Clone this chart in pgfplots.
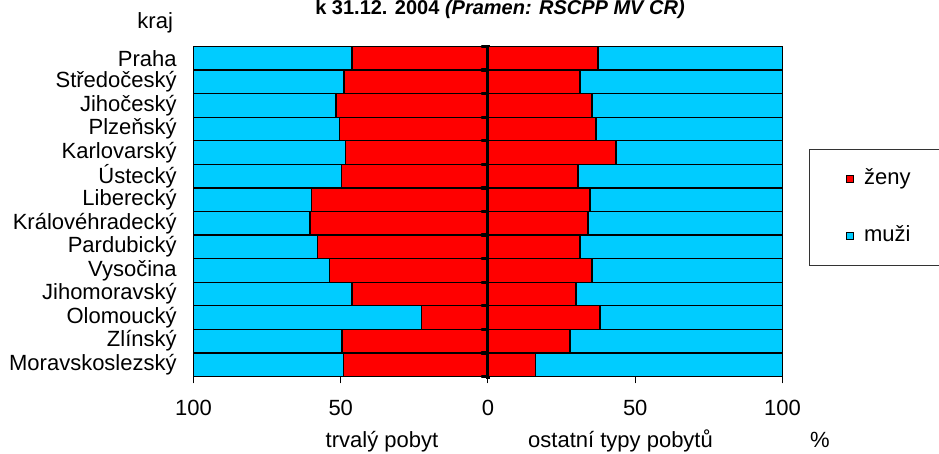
\documentclass[border=0pt]{standalone}
\usepackage{fontspec}
\setmainfont{Liberation Sans}
\usepackage{pgfplots}
\usepackage{pgfplotstable}
\pgfplotsset{compat=1.18}
\definecolor{zeny}{HTML}{FF0000}
\definecolor{muzi}{HTML}{00CCFF}

% ženy / muži share (%) -- trvalý pobyt (zt, mt), ostatní typy pobytů (zo, mo)
\pgfplotstableread{
kraj zt mt zo mo
Moravskoslezský 49.0 51.0 16.2 83.8
Zlínský 49.6 50.4 27.8 72.2
Olomoucký 22.5 77.5 38.0 62.0
Jihomoravský 46.2 53.8 29.9 70.1
Vysočina 53.8 46.2 35.3 64.7
Pardubický 57.8 42.2 31.2 68.8
Královéhradecký 60.4 39.6 34.0 66.0
Liberecký 59.9 40.1 34.6 65.4
Ústecký 49.7 50.3 30.6 69.4
Karlovarský 48.3 51.7 43.5 56.5
Plzeňský 50.4 49.6 36.7 63.3
Jihočeský 51.6 48.4 35.3 64.7
Středočeský 48.9 51.1 31.2 68.8
Praha 46.2 53.8 37.4 62.6
}\data

\pgfplotsset{
  common/.style={
    scale only axis, width=294.5pt, height=165pt,
    at={(96.75pt,38.75pt)}, anchor=south west,
    xmin=-100, xmax=100, ymin=-0.5, ymax=13.5,
    xbar stacked, bar width=1, clip=false,
    /pgf/number format/assume math mode=true,
  },
  barstyle/.style={draw=black, line width=0.7pt},
}

\begin{document}
\begin{tikzpicture}[font=\fontsize{11}{13}\selectfont]
\useasboundingbox (0,0) rectangle (469.5pt,227pt);
\begin{axis}[common,
  axis x line*=bottom, axis y line*=left,
  y axis line style={draw=none},
  x axis line style={black, line width=0.5pt},
  xtick={-100,-50,0,50,100},
  xticklabels={100,50,0,50,100},
  tick align=outside,
  major tick length=3.5pt,
  xtick style={black, line width=0.5pt},
  xticklabel style={anchor=center, yshift=-12pt},
  ytick=data,
  yticklabels from table={\data}{kraj},
  ytick style={draw=none},
  yticklabel style={anchor=east, xshift=-1.4pt},
  legend cell align=left,
  legend image code/.code={\draw[#1, line width=0.5pt] (0pt,-1.9pt) rectangle (3.8pt,1.9pt);},
  legend style={at={(rel axis cs:1.045,0.689)}, anchor=north west,
    draw=black!80, line width=0.5pt, inner xsep=18pt, inner ysep=10pt,
    row sep=19pt,
    nodes={inner sep=0pt, text height=7.5pt, text depth=2pt, anchor=west},
    /tikz/every odd column/.append style={column sep=5pt}},
]
\addplot[barstyle, fill=zeny] table[x expr=-\thisrow{zt}, y expr=\coordindex] {\data};
\addplot[barstyle, fill=muzi] table[x expr=-\thisrow{mt}, y expr=\coordindex] {\data};
\legend{ženy, muži}
\node[anchor=base] at (axis cs:-36,-0.5) [yshift=-35.5pt] {trvalý pobyt};
\node[anchor=base] at (axis cs:45,-0.5) [yshift=-35.5pt] {ostatní typy pobytů};
\node[anchor=base] at (axis cs:112.7,-0.5) [yshift=-35.5pt] {\%};
\end{axis}
\begin{axis}[common, hide axis]
\addplot[barstyle, fill=zeny] table[x=zo, y expr=\coordindex] {\data};
\addplot[barstyle, fill=muzi] table[x=mo, y expr=\coordindex] {\data};
\draw[line width=2pt] (axis cs:0,-0.6) -- (axis cs:0,13.55);
\pgfplotsinvokeforeach{-0.5,0.5,1.5,2.5,3.5,4.5,5.5,6.5,7.5,8.5,9.5,10.5,11.5,12.5,13.5}{
  \draw[line width=1.6pt, line cap=round] ([xshift=-3pt]axis cs:0,#1) -- (axis cs:0,#1);
}
\end{axis}
\node[anchor=base east] at (90pt,212.5pt) {kraj};
\node[anchor=base, font=\fontsize{10}{12}\selectfont\bfseries] at (250pt,219.5pt) {k 31.12. 2004 \textit{(Pramen: RSCPP MV ČR)}};
\end{tikzpicture}
\end{document}
